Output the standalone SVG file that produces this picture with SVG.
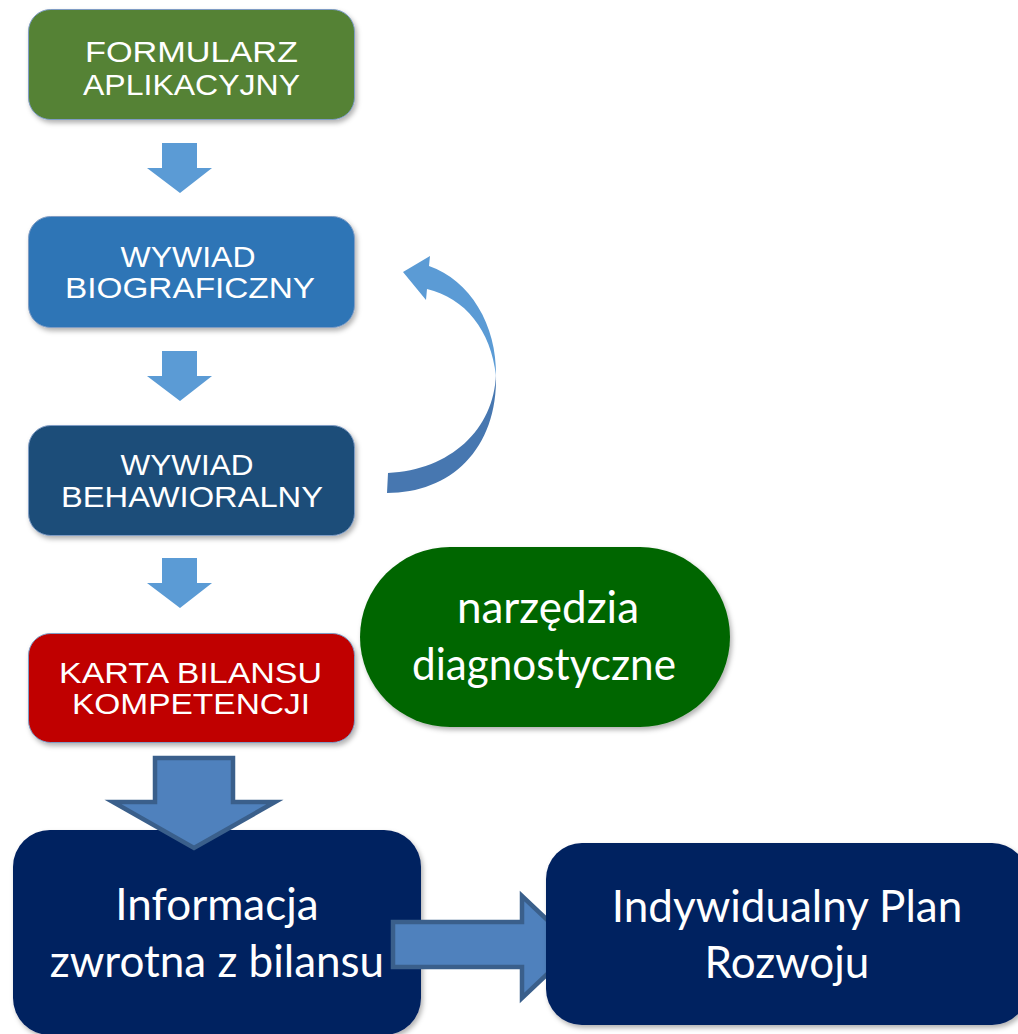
<svg xmlns="http://www.w3.org/2000/svg" width="1018" height="1034" viewBox="0 0 1018 1034">
  <defs>
    <filter id="sh" x="-10%" y="-10%" width="125%" height="130%">
      <feDropShadow dx="2" dy="3" stdDeviation="2.5" flood-color="#000" flood-opacity="0.3"/>
    </filter>
    <style>
      .box { stroke: #7f9cc4; stroke-width: 1; filter: url(#sh); }
      .sm { font-family: "Liberation Sans", Arial, sans-serif; font-size: 29px; fill: #ffffff; text-anchor: middle; }
      .lg { font-family: Lato, "Open Sans", sans-serif; font-size: 44px; fill: #ffffff; text-anchor: middle; }
      .small-arrow { fill: #5b9bd5; }
      .big-arrow { fill: #4f81bd; stroke: #3a5f8b; stroke-width: 4.5; stroke-linejoin: miter; }
      .dark { fill: #002060; filter: url(#sh); }
    </style>
  </defs>
  <rect width="1018" height="1034" fill="#ffffff"/>

  <g id="n1">
    <rect class="box" x="28.5" y="9.5" width="326" height="110" rx="22" fill="#548235"/>
    <text class="sm" x="191.5" y="62" textLength="213" lengthAdjust="spacingAndGlyphs">FORMULARZ</text>
    <text class="sm" x="191.5" y="95" textLength="217" lengthAdjust="spacingAndGlyphs">APLIKACYJNY</text>
  </g>
  <g id="n2">
    <rect class="box" x="28.5" y="216.5" width="326" height="111" rx="22" fill="#2e75b6"/>
    <text class="sm" x="188" y="267" textLength="135" lengthAdjust="spacingAndGlyphs">WYWIAD</text>
    <text class="sm" x="190" y="298" textLength="250" lengthAdjust="spacingAndGlyphs">BIOGRAFICZNY</text>
  </g>
  <g id="n3">
    <rect class="box" x="28.5" y="425.5" width="326" height="110" rx="22" fill="#1f4e79"/>
    <text class="sm" x="187" y="475" textLength="133" lengthAdjust="spacingAndGlyphs">WYWIAD</text>
    <text class="sm" x="192" y="507" textLength="262" lengthAdjust="spacingAndGlyphs">BEHAWIORALNY</text>
  </g>
  <g id="n4">
    <rect class="box" x="28.5" y="633.5" width="326" height="109" rx="22" fill="#c00000"/>
    <text class="sm" x="190.5" y="683" textLength="263" lengthAdjust="spacingAndGlyphs">KARTA BILANSU</text>
    <text class="sm" x="191" y="714" textLength="238" lengthAdjust="spacingAndGlyphs">KOMPETENCJI</text>
  </g>
  <g id="n5">
    <rect x="360" y="547" width="370" height="180" rx="90" fill="#006600" filter="url(#sh)"/>
    <text class="lg" x="548" y="623">narzędzia</text>
    <text class="lg" x="544" y="680" textLength="264" lengthAdjust="spacingAndGlyphs">diagnostyczne</text>
  </g>
  <g id="n6">
    <rect class="dark" x="13" y="830" width="408" height="205" rx="37"/>
    <text class="lg" x="217" y="920">Informacja</text>
    <text class="lg" x="217" y="977">zwrotna z bilansu</text>
  </g>

  <g id="connectors">
    <polygon class="small-arrow" points="162,143 197,143 197,168 212,168 180,193 147,168 162,168"/>
    <polygon class="small-arrow" points="162,351 197,351 197,376 212,376 180,401 147,376 162,376"/>
    <polygon class="small-arrow" points="162,558 197,558 197,583 212,583 180,608 147,583 162,583"/>
    <path d="M496,374 C494,430 450,470 388,473 L387,493 C450,493 498,450 496,374 Z" fill="#4777b0"/>
    <path d="M403,272 L430,256 L429,266 C470,280 497,325 496,376 C491,330 465,298 427,289 L426,300 Z" fill="#5b9bd5"/>
    <polygon class="big-arrow" points="155,758 233,758 233,802 275,802 194,848 113,802 155,802"/>
    <polygon class="big-arrow" points="393,922 522,922 522,896 576,947 522,998 522,967 393,967"/>
  </g>

  <g id="n7">
    <rect class="dark" x="546" y="843" width="482" height="182" rx="36"/>
    <text class="lg" x="787" y="922">Indywidualny Plan</text>
    <text class="lg" x="787" y="978">Rozwoju</text>
  </g>
</svg>
